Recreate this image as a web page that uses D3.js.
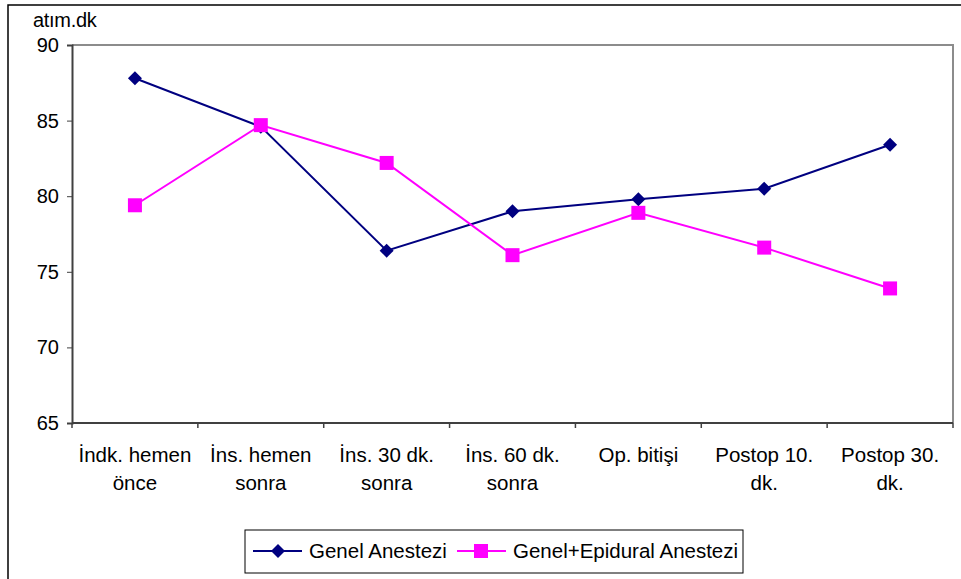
<!DOCTYPE html>
<html>
<head>
<meta charset="utf-8">
<script src="https://cdn.jsdelivr.net/npm/d3@7"></script>
<style>
  body { margin: 0; background: #fff; }
  text { font-family: "Liberation Sans", Arial, sans-serif; fill: #000; }
</style>
</head>
<body>
<div id="grafiek"></div>
<script>
// kategoriler (x ekseni)
var categories = [
    ["İndk. hemen", "önce"],
    ["İns. hemen", "sonra"],
    ["İns. 30 dk.", "sonra"],
    ["İns. 60 dk.", "sonra"],
    ["Op. bitişi"],
    ["Postop 10.", "dk."],
    ["Postop 30.", "dk."]
];
var seriesNames = ["Genel Anestezi", "Genel+Epidural Anestezi"];
var genel = [87.8, 84.6, 76.4, 79.0, 79.8, 80.5, 83.4];
var epidural = [79.4, 84.7, 82.2, 76.1, 78.9, 76.6, 73.9];
var yTicks = [65, 70, 75, 80, 85, 90];

var width = 961, height = 579;
var plotLeft = 72, plotRight = 953, plotTop = 45, plotBottom = 423;

var svg = d3.select("#grafiek").append("svg")
    .attr("width", width)
    .attr("height", height);

// dis cerceve (sadece ust ve sol gorunur)
svg.append("path")
    .attr("d", "M8,579V5H961")
    .attr("fill", "none")
    .attr("stroke", "#000")
    .attr("stroke-width", 1.5);

var xScale = d3.scaleBand()
    .domain(d3.range(categories.length))
    .range([plotLeft, plotRight]);

var yScale = d3.scaleLinear()
    .domain([65, 90])
    .range([plotBottom, plotTop]);

// grafik alani cercevesi (gri)
svg.append("path")
    .attr("d", "M" + plotLeft + "," + plotTop + "H" + plotRight + "V" + plotBottom)
    .attr("fill", "none")
    .attr("stroke", "#8c8c8c")
    .attr("stroke-width", 2);

// y ekseni
var yAxis = svg.append("g")
    .attr("transform", "translate(" + plotLeft + ",0)")
    .call(d3.axisLeft(yScale).tickValues(yTicks).tickSize(5).tickPadding(8));
yAxis.select(".domain").attr("stroke", "#404040").attr("stroke-width", 2);
yAxis.selectAll(".tick line").attr("stroke", "#404040");
yAxis.selectAll("text")
    .style("font-size", "20px")
    .style("font-family", "Liberation Sans, Arial, sans-serif")
    .attr("fill", "#000");

// x ekseni (kategori sinirlarinda tikler)
var xAxisG = svg.append("g");
xAxisG.append("line")
    .attr("x1", plotLeft).attr("x2", plotRight)
    .attr("y1", plotBottom).attr("y2", plotBottom)
    .attr("stroke", "#404040").attr("stroke-width", 2);
xAxisG.selectAll(".xt")
    .data(d3.range(categories.length + 1))
    .enter().append("line")
    .attr("x1", function(i) { return i < categories.length ? xScale(i) : plotRight; })
    .attr("x2", function(i) { return i < categories.length ? xScale(i) : plotRight; })
    .attr("y1", plotBottom).attr("y2", plotBottom + 5)
    .attr("stroke", "#404040").attr("stroke-width", 1.5);

xAxisG.selectAll(".xl")
    .data(categories)
    .enter().append("text")
    .attr("text-anchor", "middle")
    .style("font-size", "20.5px")
    .attr("x", function(d, i) { return xScale(i) + xScale.bandwidth() / 2; })
    .attr("y", 462)
    .each(function(d) {
        var t = d3.select(this);
        d.forEach(function(line, k) {
            t.append("tspan")
                .attr("x", t.attr("x"))
                .attr("dy", k === 0 ? 0 : 28)
                .text(line);
        });
    });

// y ekseni basligi
svg.append("text")
    .attr("x", 33).attr("y", 27)
    .style("font-size", "20px")
    .style("letter-spacing", "-0.3px")
    .text("atım.dk");

var line = d3.line()
    .x(function(d, i) { return xScale(i) + xScale.bandwidth() / 2; })
    .y(function(d) { return yScale(d); });

function diamond(sel, cx, cy) {
    sel.append("path")
        .attr("d", "M" + cx + "," + (cy - 7) + "L" + (cx + 7) + "," + cy +
                   "L" + cx + "," + (cy + 7) + "L" + (cx - 7) + "," + cy + "Z")
        .attr("fill", "#000080");
}
function square(sel, cx, cy) {
    sel.append("rect")
        .attr("x", cx - 7).attr("y", cy - 7)
        .attr("width", 14).attr("height", 14)
        .attr("fill", "#ff00ff");
}

// seri 1: Genel Anestezi
svg.append("path")
    .datum(genel)
    .attr("d", line)
    .attr("fill", "none")
    .attr("stroke", "#000080")
    .attr("stroke-width", 2);
genel.forEach(function(v, i) {
    diamond(svg, xScale(i) + xScale.bandwidth() / 2, yScale(v));
});

// seri 2: Genel+Epidural Anestezi
svg.append("path")
    .datum(epidural)
    .attr("d", line)
    .attr("fill", "none")
    .attr("stroke", "#ff00ff")
    .attr("stroke-width", 2);
epidural.forEach(function(v, i) {
    square(svg, xScale(i) + xScale.bandwidth() / 2, yScale(v));
});

// lejant
var legend = svg.append("g");
legend.append("rect")
    .attr("x", 245).attr("y", 530)
    .attr("width", 498).attr("height", 43)
    .attr("fill", "#fff")
    .attr("stroke", "#000").attr("stroke-width", 1);

legend.append("line")
    .attr("x1", 253).attr("x2", 302).attr("y1", 551).attr("y2", 551)
    .attr("stroke", "#000080").attr("stroke-width", 2);
diamond(legend, 278, 551);
legend.append("text")
    .attr("x", 309).attr("y", 558)
    .style("font-size", "20.5px")
    .text(seriesNames[0]);

legend.append("line")
    .attr("x1", 457).attr("x2", 506).attr("y1", 551).attr("y2", 551)
    .attr("stroke", "#ff00ff").attr("stroke-width", 2);
square(legend, 481, 551);
legend.append("text")
    .attr("x", 513).attr("y", 558)
    .style("font-size", "20.5px")
    .text(seriesNames[1]);
</script>
</body>
</html>
